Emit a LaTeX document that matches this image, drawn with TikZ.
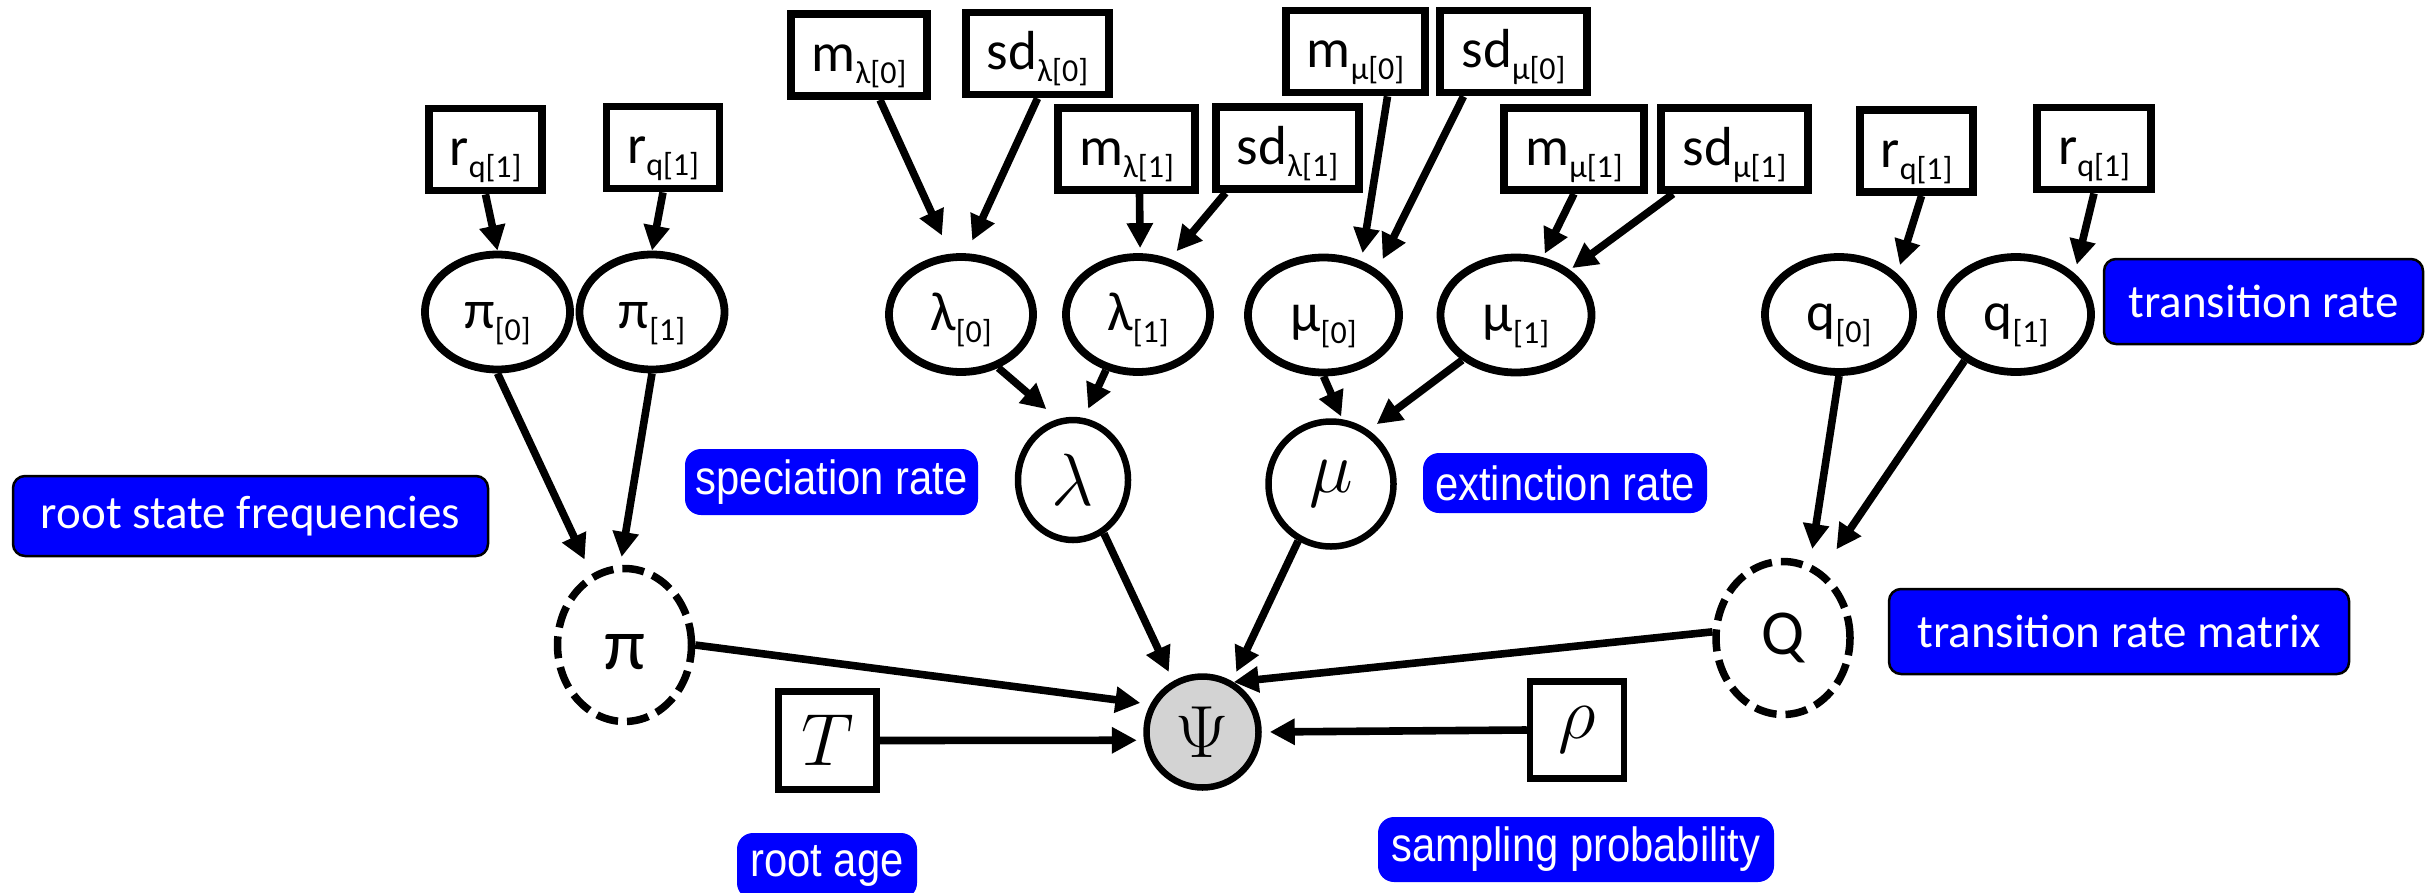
\RequirePackage{fix-cm}
\documentclass[tikz,border=0pt]{standalone}
\usepackage{fontspec}
\usetikzlibrary{shapes.geometric,arrows.meta}
\newfontfamily\carl{Carlito}
\newfontfamily\arl[FakeStretch=0.87]{Liberation Sans}
\newcommand\sbs[1]{\raisebox{-12pt}{\fontsize{32}{32}\selectfont #1}}
\definecolor{lblblue}{RGB}{0,0,255}
\definecolor{psigray}{RGB}{211,211,211}
\begin{document}
\begin{tikzpicture}[x=1pt,y=-1pt,
  cfont/.style={font=\carl\fontsize{55}{60}\selectfont, text height=50pt, text depth=18pt},
  pbox/.style={draw, rectangle, line width=7.8pt, minimum width=#1, minimum height=82pt, inner sep=0pt, cfont},
  ell/.style={draw, ellipse, line width=7.8pt, minimum width=#1, minimum height=115pt, inner sep=0pt, cfont},
  mfont/.style={font=\fontsize{74}{80}\selectfont},
  dnode/.style={draw, ellipse, line width=7.5pt, dash pattern=on 22pt off 9pt, minimum width=134pt, minimum height=153pt, inner sep=0pt},
  lblc/.style={draw=black, line width=2.5pt, fill=lblblue, rounded corners=12pt, text=white, inner sep=0pt, font=\carl\fontsize{47}{52}\selectfont},
  lbla/.style={draw=none, fill=lblblue, rounded corners=16pt, text=white, inner sep=0pt, font=\arl\fontsize{48}{52}\selectfont},
  arr/.style={line width=7.6pt, -{Triangle[length=25pt,width=25pt]}}
]
\useasboundingbox (0,0) rectangle (2427,892);

% parameter boxes
\node[pbox=113pt] (rA) at (485.5,149.5) {r\sbs{q[1]}};
\node[pbox=113pt] (rB) at (663,147.5) {r\sbs{q[1]}};
\node[pbox=136pt] (mL0) at (859,55) {m\sbs{λ[0]}};
\node[pbox=143pt] (sdL0) at (1037.5,53.5) {sd\sbs{λ[0]}};
\node[pbox=137pt] (mL1) at (1126.5,149) {m\sbs{λ[1]}};
\node[pbox=143pt] (sdL1) at (1287.5,148) {sd\sbs{λ[1]}};
\node[pbox=139pt] (mM0) at (1355.5,51.5) {m\sbs{μ[0]}};
\node[pbox=147pt] (sdM0) at (1513.5,51.5) {sd\sbs{μ[0]}};
\node[pbox=140pt] (mM1) at (1574,149) {m\sbs{μ[1]}};
\node[pbox=147pt] (sdM1) at (1734.5,149) {sd\sbs{μ[1]}};
\node[pbox=113pt] (rC) at (1916.5,151) {r\sbs{q[1]}};
\node[pbox=114pt] (rD) at (2094,148.5) {r\sbs{q[1]}};

% stochastic nodes
\node[ell=145pt] (pi0) at (497.5,312) {π\sbs{[0]}};
\node[ell=145pt] (pi1) at (652,312) {π\sbs{[1]}};
\node[ell=144pt] (lam0) at (961,314.5) {λ\sbs{[0]}};
\node[ell=144pt] (lam1) at (1138,314.5) {λ\sbs{[1]}};
\node[ell=151pt] (mu0) at (1323.5,315) {μ\sbs{[0]}};
\node[ell=151pt] (mu1) at (1516,315) {μ\sbs{[1]}};
\node[ell=148pt] (q0) at (1839,314.5) {q\sbs{[0]}};
\node[ell=150pt] (q1) at (2016,314.5) {q\sbs{[1]}};

\node[draw, ellipse, line width=6.5pt, minimum width=110pt, minimum height=120pt, inner sep=0pt, mfont] (lam) at (1073,480) {$\lambda$};
\node[draw, ellipse, line width=6.5pt, minimum width=125pt, minimum height=125pt, inner sep=0pt, mfont] (mu) at (1331,484) {$\mu$};
\node[draw, ellipse, line width=6.5pt, fill=psigray, minimum width=112pt, minimum height=111pt, inner sep=0pt, mfont] (Psi) at (1202.5,732) {$\Psi$};
\node[dnode, font=\carl\fontsize{74}{80}\selectfont, text height=48pt, text depth=0pt] (pi) at (624.5,645) {π};
\node[dnode, font=\carl\fontsize{64}{70}\selectfont] (Q) at (1783,638) {Q};
\node[draw, rectangle, line width=6.5pt, minimum width=98pt, minimum height=98pt, inner sep=0pt, mfont] (T) at (827.5,740.5) {$T$};
\node[draw, rectangle, line width=6.5pt, minimum width=94pt, minimum height=97pt, inner sep=0pt, mfont] (rho) at (1577,730) {$\rho$};

% labels
\node[lblc, minimum width=475pt, minimum height=80pt] (lrsf) at (250.5,516) {root state frequencies};
\node[lblc, minimum width=319pt, minimum height=85pt] (ltr) at (2263.5,301.5) {transition rate};
\node[lblc, minimum width=460pt, minimum height=85pt] (ltrm) at (2119,631.5) {transition rate matrix};
\node[lbla, minimum width=293pt, minimum height=66pt] (lspec) at (831.5,482) {speciation rate};
\node[lbla, minimum width=284pt, minimum height=60pt] (lext) at (1565,483) {extinction rate};
\node[lbla, minimum width=180pt, minimum height=66pt] (lage) at (827,866) {root age};
\node[lbla, minimum width=396pt, minimum height=65pt] (lsamp) at (1576,849.5) {sampling probability};

% connectors
\draw[arr] (rA.south) -- (pi0.north);
\draw[arr] (rB.south) -- (pi1.north);
\draw[arr, shorten >=16pt] (pi0.south) -- (pi.115);
\draw[arr, shorten >=8pt] (pi1.south) -- (pi.93);
\draw[arr, shorten >=20pt] ([xshift=21pt]mL0.south) -- (lam0.100);
\draw[arr, shorten >=14pt] (sdL0.south) -- (lam0.85);
\draw[arr, shorten >=5pt] ([xshift=13pt]mL1.south) -- (lam1.88);
\draw[arr, shorten >=10pt] ([xshift=-62pt]sdL1.south) -- (lam1.60);
\draw[arr, shorten >=15pt] (lam0.-55) -- (lam.104);
\draw[arr, shorten >=10pt] (lam1.-120) -- (lam.80);
\draw[arr, shorten >=8pt] ([xshift=32pt]mM0.south) -- (mu0.55);
\draw[arr, shorten >=12pt] ([xshift=-50pt]sdM0.south) -- (mu0.40);
\draw[arr, shorten >=4pt] (mM1.south) -- (mu1.65);
\draw[arr, shorten >=3pt] ([xshift=-61.5pt]sdM1.south) -- (mu1.40);
\draw[arr, shorten >=3pt] (mu0.south) -- (mu.80);
\draw[arr, shorten >=10pt] (mu1.-140) -- (mu.55);
\draw[arr, shorten >=9pt] ([xshift=5pt]rC.south) -- (q0.35);
\draw[arr, shorten >=9pt] (rD.south) -- (q1.35);
\draw[arr, shorten >=15pt] (q0.south) -- (Q.70);
\draw[arr, shorten >=26pt] (q1.-138) -- (Q.60);
\draw[arr, shorten >=10pt] (lam.-60) -- (Psi.120);
\draw[arr, shorten >=10pt] (mu.-120) -- (Psi.60);
\draw[arr, shorten >=10pt] (pi.east) -- (Psi.152);
\draw[arr] (Q.175) -- (Psi.58);
\draw[arr, shorten >=7pt] (T.east) -- (Psi.188);
\draw[arr, shorten >=8pt] (rho.west) -- (Psi.east);
\end{tikzpicture}
\end{document}
